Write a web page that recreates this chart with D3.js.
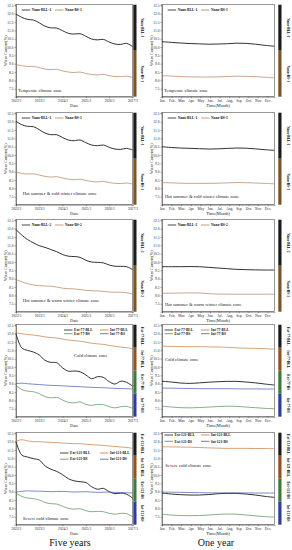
<!DOCTYPE html>
<html>
<head>
<meta charset="utf-8">
<script src="https://cdn.jsdelivr.net/npm/d3@7"></script>
<style>
  html, body { margin: 0; padding: 0; background: #fff; }
  svg { display: block; }
  text { font-family: "Liberation Serif", "DejaVu Serif", serif; }
</style>
</head>
<body>
<svg id="chart" width="292" height="550"></svg>
<script>
// tick labels
const years = ["2022/1", "2023/1", "2024/1", "2025/1", "2026/1", "2027/1"]
const months = ["Jan.", "Feb.", "Mar.", "Apr.", "May", "Jun.", "Jul.", "Aug.", "Sep.", "Oct.", "Nov.", "Dec."]
const yTicks = [7.5, 8.0, 8.5, 9.0, 9.5, 10.0, 10.5, 11.0, 11.5, 12.0, 12.5]

// five years, one value every quarter (2022/1 .. 2027/1)
const temperateBLL5 = [11.98, 11.78, 11.66, 11.62, 11.45, 11.25, 11.15, 11.14, 10.98, 10.82, 10.78, 10.80, 10.64, 10.48, 10.43, 10.46, 10.30, 10.18, 10.16, 10.22, 10.03]
const temperateBS5 = [8.95, 8.88, 8.83, 8.84, 8.76, 8.68, 8.64, 8.66, 8.57, 8.50, 8.47, 8.50, 8.41, 8.35, 8.33, 8.36, 8.28, 8.23, 8.22, 8.25, 8.17]
const hsCwBLL5 = [12.02, 11.82, 11.72, 11.70, 11.52, 11.32, 11.22, 11.22, 11.05, 10.90, 10.86, 10.90, 10.74, 10.60, 10.56, 10.60, 10.46, 10.36, 10.34, 10.40, 10.30]
const hsCwBS5 = [8.97, 8.90, 8.86, 8.87, 8.80, 8.72, 8.68, 8.70, 8.62, 8.55, 8.52, 8.55, 8.47, 8.41, 8.39, 8.42, 8.35, 8.30, 8.29, 8.32, 8.26]
const hsWwBLL5 = [11.95, 11.62, 11.35, 11.15, 10.98, 10.88, 10.75, 10.62, 10.45, 10.35, 10.33, 10.28, 10.10, 10.00, 9.98, 9.95, 9.82, 9.75, 9.74, 9.72, 9.55]
const hsWwBS5 = [8.95, 8.82, 8.70, 8.63, 8.58, 8.56, 8.55, 8.50, 8.43, 8.40, 8.39, 8.35, 8.30, 8.28, 8.27, 8.24, 8.20, 8.19, 8.19, 8.16, 8.08]
const coldExtBLL5 = [12.00, 11.15, 11.00, 10.90, 10.72, 10.40, 10.28, 10.26, 9.95, 9.75, 9.76, 9.72, 9.52, 9.30, 9.42, 9.38, 9.12, 8.98, 9.15, 9.08, 8.86]
const coldIntBLL5 = [12.05, 12.00, 11.95, 11.92, 11.87, 11.81, 11.77, 11.74, 11.68, 11.62, 11.58, 11.55, 11.49, 11.43, 11.39, 11.36, 11.30, 11.24, 11.20, 11.16, 11.10]
const coldExtBS5 = [8.90, 8.65, 8.55, 8.52, 8.40, 8.22, 8.15, 8.18, 8.02, 7.88, 7.85, 7.90, 7.76, 7.70, 7.76, 7.74, 7.62, 7.55, 7.62, 7.64, 7.52]
const coldIntBS5 = [9.00, 9.03, 9.00, 8.97, 8.95, 8.92, 8.90, 8.89, 8.87, 8.85, 8.83, 8.82, 8.80, 8.78, 8.77, 8.76, 8.74, 8.72, 8.71, 8.70, 8.68]
const sevExtBLL5 = [12.00, 11.20, 11.08, 10.98, 10.90, 10.55, 10.35, 10.22, 10.02, 9.78, 9.65, 9.60, 9.55, 9.30, 9.15, 9.20, 9.00, 8.88, 8.92, 8.85, 8.62]
const sevIntBLL5 = [12.02, 12.12, 12.05, 12.00, 12.00, 11.98, 11.96, 11.95, 11.92, 11.90, 11.88, 11.88, 11.85, 11.82, 11.80, 11.78, 11.74, 11.72, 11.68, 11.66, 11.60]
const sevExtBS5 = [8.92, 8.72, 8.62, 8.58, 8.50, 8.35, 8.28, 8.26, 8.12, 8.00, 7.95, 7.98, 7.86, 7.80, 7.82, 7.80, 7.70, 7.65, 7.70, 7.68, 7.50]
const sevIntBS5 = [8.98, 9.02, 9.05, 9.04, 9.03, 9.02, 9.00, 9.01, 9.02, 9.00, 8.98, 8.99, 9.00, 8.98, 8.96, 8.97, 8.98, 8.96, 8.95, 8.94, 8.92]

// one year, sampled evenly from Jan. to the end of the year
const temperateBLL1 = [10.32, 10.28, 10.24, 10.21, 10.19, 10.17, 10.18, 10.20, 10.23, 10.22, 10.17, 10.10, 10.05]
const temperateBS1 = [8.28, 8.26, 8.23, 8.21, 8.20, 8.20, 8.21, 8.23, 8.25, 8.24, 8.22, 8.19, 8.15]
const hsCwBLL1 = [10.50, 10.45, 10.42, 10.40, 10.38, 10.36, 10.37, 10.40, 10.42, 10.41, 10.37, 10.32, 10.28]
const hsCwBS1 = [8.35, 8.33, 8.31, 8.30, 8.30, 8.30, 8.31, 8.33, 8.35, 8.34, 8.32, 8.30, 8.27]
const hsWwBLL1 = [9.72, 9.72, 9.72, 9.73, 9.72, 9.68, 9.64, 9.60, 9.56, 9.54, 9.53, 9.52, 9.52]
const hsWwBS1 = [8.13, 8.13, 8.14, 8.15, 8.14, 8.10, 8.08, 8.07, 8.07, 8.07, 8.07, 8.07, 8.07]
const coldExtBLL1 = [9.15, 9.10, 9.04, 9.02, 9.05, 9.09, 9.12, 9.14, 9.14, 9.10, 9.05, 8.98, 8.92]
const coldIntBLL1 = [11.25, 11.24, 11.23, 11.22, 11.22, 11.21, 11.20, 11.18, 11.15, 11.13, 11.12, 11.10, 11.08]
const coldExtBS1 = [7.66, 7.60, 7.56, 7.55, 7.57, 7.60, 7.63, 7.65, 7.64, 7.60, 7.56, 7.52, 7.50]
const coldIntBS1 = [8.74, 8.73, 8.72, 8.71, 8.70, 8.70, 8.70, 8.70, 8.69, 8.69, 8.69, 8.68, 8.68]
const sevExtBLL1 = [8.92, 8.86, 8.82, 8.80, 8.80, 8.83, 8.88, 8.90, 8.90, 8.86, 8.80, 8.72, 8.66]
const sevIntBLL1 = [11.70, 11.69, 11.68, 11.67, 11.65, 11.63, 11.61, 11.60, 11.60, 11.60, 11.59, 11.59, 11.58]
const sevExtBS1 = [7.65, 7.60, 7.57, 7.56, 7.57, 7.60, 7.64, 7.66, 7.65, 7.60, 7.55, 7.50, 7.48]
const sevIntBS1 = [8.98, 8.97, 8.96, 8.95, 8.94, 8.93, 8.93, 8.93, 8.93, 8.93, 8.92, 8.92, 8.92]

// styles
const black = "#1b1b1b", brownLine = "#b2805a", brownBar = "#7a5523"
const orange = "#c47a42", orangeBar = "#94511f"
const green = "#4f8f4f", greenBar = "#3b7a3b"
const blue = "#4459b0", blueBar = "#2b3e98"

const twoSeries = (a, b) => ({ lines: [a, b], lineColors: [black, brownLine], barColors: [black, brownBar] })
const fourSeries = (a, b, c, d) => ({ lines: [a, b, c, d], lineColors: [black, orange, green, blue], barColors: [black, orangeBar, greenBar, blueBar] })

const rowTops = [4.7, 112.7, 219.7, 324.7, 432.7]
const plotH = 92

const panels = [
  { row: 0, col: 0, names: ["Nano-BLL-1", "Nano-BS-1"], ...twoSeries(temperateBLL5, temperateBS5), note: "Temperate climate zone", note_at: [2, 85.5], leg: [[5.7, 5.3], [39, 5.3]] },
  { row: 0, col: 1, names: ["Nano-BLL-1", "Nano-BS-1"], ...twoSeries(temperateBLL1, temperateBS1), note: "Temperate climate zone", note_at: [2, 85.5], leg: [[5.7, 5.3], [39, 5.3]] },
  { row: 1, col: 0, names: ["Nano-BLL-1", "Nano-BS-1"], ...twoSeries(hsCwBLL5, hsCwBS5), note: "Hot summer & cold winter climate zone", note_at: [6.7, 80.3], leg: [[5.7, 5.3], [39, 5.3]] },
  { row: 1, col: 1, names: ["Nano-BLL-1", "Nano-BS-1"], ...twoSeries(hsCwBLL1, hsCwBS1), note: "Hot summer & cold winter climate zone", note_at: [3, 83.6], leg: [[5.7, 5.3], [39, 5.3]] },
  { row: 2, col: 0, names: ["Nano-BLL-2", "Nano-BS-2"], ...twoSeries(hsWwBLL5, hsWwBS5), note: "Hot summer & warm winter climate zone", note_at: [6.7, 80.3], leg: [[5.7, 5.3], [39, 5.3]] },
  { row: 2, col: 1, names: ["Nano-BLL-2", "Nano-BS-2"], ...twoSeries(hsWwBLL1, hsWwBS1), note: "Hot summer & warm winter climate zone", note_at: [3, 84.6], leg: [[5.7, 5.3], [39, 5.3]] },
  { row: 3, col: 0, names: ["Ext-77-BLL", "Int-77-BLL", "Ext-77-BS", "Int-77-BS"], ...fourSeries(coldExtBLL5, coldIntBLL5, coldExtBS5, coldIntBS5), note: "Cold climate zone", note_at: [58, 30.3], leg: [[48, 5.3], [84, 5.3], [48, 9], [84, 9]] },
  { row: 3, col: 1, names: ["Ext-77-BLL", "Int-77-BLL", "Ext-77-BS", "Int-77-BS"], ...fourSeries(coldExtBLL1, coldIntBLL1, coldExtBS1, coldIntBS1), note: "Cold climate zone", note_at: [3, 34.6], leg: [[2.5, 5.3], [39, 5.3], [2.5, 9], [39, 9]] },
  { row: 4, col: 0, names: ["Ext-121-BLL", "Int-121-BLL", "Ext-121-BS", "Int-121-BS"], ...fourSeries(sevExtBLL5, sevIntBLL5, sevExtBS5, sevIntBS5), note: "Severe cold climate zone", note_at: [6.7, 85.3], leg: [[44, 20.3], [84, 20.3], [44, 26.5], [84, 26.5]] },
  { row: 4, col: 1, names: ["Ext-121-BLL", "Int-121-BLL", "Ext-121-BS", "Int-121-BS"], ...fourSeries(sevExtBLL1, sevIntBLL1, sevExtBS1, sevIntBS1), note: "Severe cold climate zone", note_at: [3.3, 33], leg: [[2.5, 2.3], [39, 2.3], [2.5, 8.6], [39, 8.6]] }
]

const cols = [
  { left: 16, right: 132.5, barX: 133.3, labX: 142.3, yLabX: 6.5, title: "Date", bottom: "Five years", bottomX: 70 },
  { left: 162, right: 274.3, barX: 278.3, labX: 288, yLabX: 152.5, title: "Time(Month)", bottom: "One year", bottomX: 216 }
]

const svg = d3.select("#chart")
svg.append("rect").attr("width", 292).attr("height", 550).attr("fill", "#fff")

const start = new Date(2022, 0, 1), end = new Date(2027, 0, 1)

panels.forEach(p => {
  const c = cols[p.col]
  const top = rowTops[p.row]
  const g = svg.append("g")
  const y = d3.scaleLinear().domain([7.02, 12.54]).range([top + plotH, top])

  let x, xAxis, xOf
  if (p.col === 0) {
    x = d3.scaleTime().domain([start, end]).range([c.left, c.right])
    xAxis = d3.axisBottom(x).tickValues(years.map((s, i) => new Date(2022 + i, 0, 1)))
      .tickFormat((d, i) => years[i])
    xOf = (d, i) => x(d3.timeMonth.offset(start, 3 * i))
  } else {
    x = d3.scaleLinear().domain([0, 11.7]).range([c.left, c.right])
    xAxis = d3.axisBottom(x).tickValues(d3.range(months.length)).tickFormat((d, i) => months[i])
    xOf = (d, i, arr) => x(i * 11.7 / (arr.length - 1))
  }
  xAxis.tickSize(1.5).tickPadding(1)

  // frame
  g.append("rect")
    .attr("x", c.left).attr("y", top)
    .attr("width", c.right - c.left).attr("height", plotH)
    .attr("fill", "none").attr("stroke", "#333").attr("stroke-width", 0.5)

  const ax = g.append("g").attr("transform", `translate(0,${top + plotH})`).call(xAxis)
  const ay = g.append("g").attr("transform", `translate(${c.left},0)`)
    .call(d3.axisLeft(y).tickValues(yTicks).tickFormat(d3.format(".1f")).tickSize(1.5).tickPadding(1))
  ;[ax, ay].forEach(a => {
    a.select(".domain").attr("stroke", "#333").attr("stroke-width", 0.5)
    a.selectAll(".tick line").attr("stroke", "#333").attr("stroke-width", 0.4)
    a.selectAll(".tick text").attr("font-size", 3.6).attr("fill", "#222")
      .style("font-family", "Liberation Serif")
  })

  g.append("text")
    .attr("x", (c.left + c.right) / 2).attr("y", top + plotH + 10.5)
    .attr("text-anchor", "middle").attr("font-size", 4.4).attr("fill", "#222")
    .text(c.title)
  g.append("text")
    .attr("transform", `translate(${c.yLabX},${top + plotH / 2}) rotate(-90)`)
    .attr("text-anchor", "middle").attr("font-size", 4.2).attr("fill", "#222")
    .text("Water Content(%)")

  // lines
  const lineGen = arr => d3.line()
    .x((d, i) => xOf(d, i, arr))
    .y(d => y(d))
    .curve(d3.curveCatmullRom.alpha(0.5))(arr)
  p.lines.forEach((arr, k) => {
    g.append("path")
      .attr("d", lineGen(arr))
      .attr("fill", "none")
      .attr("stroke", p.lineColors[k])
      .attr("stroke-width", k === 0 ? 0.9 : 0.7)
  })

  // legend
  p.names.forEach((name, k) => {
    const [dx, dy] = p.leg[k]
    const lx = c.left + dx, ly = top + dy
    g.append("line").attr("x1", lx).attr("x2", lx + 8.5).attr("y1", ly).attr("y2", ly)
      .attr("stroke", p.lineColors[k]).attr("stroke-width", 0.8)
    g.append("text").attr("x", lx + 10).attr("y", ly).attr("dy", "0.35em")
      .attr("font-size", 3.6).attr("font-weight", "bold").attr("fill", "#111")
      .text(name)
  })

  // annotation
  g.append("text")
    .attr("x", c.left + p.note_at[0]).attr("y", top + p.note_at[1]).attr("dy", "0.35em")
    .attr("font-size", 4.6).attr("fill", "#222")
    .text(p.note)

  // colour bar with rotated names
  const n = p.names.length
  const seg = d3.scaleBand().domain(d3.range(n)).range([top, top + plotH])
  p.names.forEach((name, k) => {
    g.append("rect").attr("x", c.barX).attr("y", seg(k))
      .attr("width", 3.2).attr("height", seg.bandwidth())
      .attr("fill", p.barColors[k])
    g.append("text")
      .attr("transform", `translate(${c.labX},${seg(k) + seg.bandwidth() / 2}) rotate(90)`)
      .attr("text-anchor", "middle").attr("dy", "0.35em")
      .attr("font-size", 3.6).attr("font-weight", "bold").attr("fill", "#111")
      .text(name)
  })
})

cols.forEach(c => {
  svg.append("text")
    .attr("x", c.bottomX).attr("y", 546)
    .attr("text-anchor", "middle").attr("font-size", 10).attr("fill", "#111")
    .text(c.bottom)
})
</script>
</body>
</html>
